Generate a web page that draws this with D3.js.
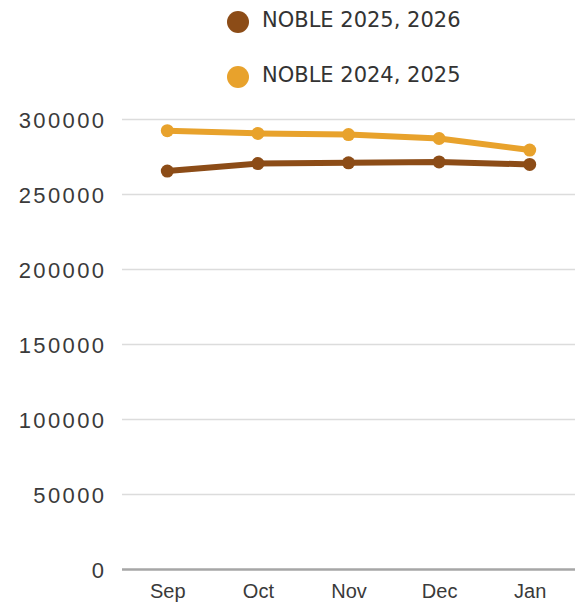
<!DOCTYPE html>
<html>
<head>
<meta charset="utf-8">
<script src="https://cdn.jsdelivr.net/npm/d3@7"></script>
<style>
  html, body { margin: 0; padding: 0; background: #fff; }
  svg { display: block; font-family: "DejaVu Sans", sans-serif; }
</style>
</head>
<body>
<svg id="chart" width="579" height="609"></svg>
<script>
// Monthly totals, Sep–Jan, for two consecutive school years
const months = ["Sep", "Oct", "Nov", "Dec", "Jan"];
const seriesNames = ["NOBLE 2025, 2026", "NOBLE 2024, 2025"];
const noble2526 = [265300, 270300, 270800, 271400, 269700];
const noble2425 = [292200, 290400, 289600, 287000, 279300];
const yTicks = [0, 50000, 100000, 150000, 200000, 250000, 300000];
const colors = ["#8c4c17", "#e8a22c"];

const svg = d3.select("#chart");
const margin = { left: 122, right: 4 };
const W = 579;

const x = d3.scalePoint().domain(months).range([margin.left, W - margin.right]).padding(0.5);
const y = d3.scaleLinear().domain([0, 300000]).range([569, 119]);

// Horizontal gridlines with tick labels
const yAxis = d3.axisLeft(y).tickValues(yTicks)
  .tickSize(-(W - margin.right - margin.left)).tickPadding(15.5).tickFormat(d3.format("d"));
const gy = svg.append("g").attr("transform", `translate(${margin.left},0)`).call(yAxis);
gy.select(".domain").remove();
gy.selectAll(".tick line")
  .attr("stroke", d => d === 0 ? "#a6a6a6" : "#dcdcdc")
  .attr("stroke-width", d => d === 0 ? 2.5 : 1.5);
gy.selectAll(".tick text").attr("fill", "#3a3a3a")
  .style("font-size", "22px").style("letter-spacing", "2.4px").attr("dy", "0.38em");

// Month labels
const xAxis = d3.axisBottom(x).tickSize(0).tickPadding(15);
const gx = svg.append("g").attr("transform", `translate(0,569)`).call(xAxis);
gx.select(".domain").remove();
gx.selectAll(".tick text").attr("fill", "#3a3a3a").style("font-size", "20px");

// Lines and markers
const line = d3.line().x((d, i) => x(months[i])).y(d => y(d));
[[noble2425, colors[1]], [noble2526, colors[0]]].forEach(([vals, c]) => {
  svg.append("path").datum(vals).attr("d", line)
    .attr("fill", "none").attr("stroke", c).attr("stroke-width", 6)
    .attr("stroke-linejoin", "round").attr("stroke-linecap", "round");
  svg.append("g").selectAll("circle").data(vals).join("circle")
    .attr("cx", (d, i) => x(months[i])).attr("cy", d => y(d)).attr("r", 6.5).attr("fill", c);
});

// Legend
const legend = svg.append("g");
seriesNames.forEach((name, i) => {
  const g = legend.append("g").attr("transform", `translate(238,${22 + i * 55})`);
  g.append("circle").attr("r", 11).attr("fill", colors[i]);
  g.append("text").attr("x", 24).attr("y", 5).attr("fill", "#333")
    .style("font-size", "21px").text(name);
});
</script>
</body>
</html>
